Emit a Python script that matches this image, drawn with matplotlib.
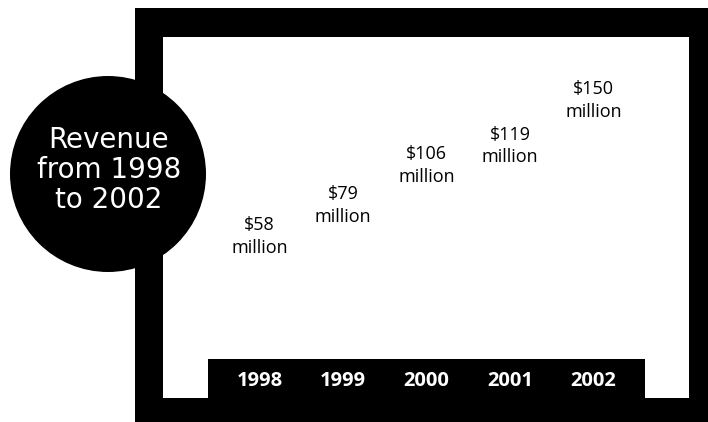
import matplotlib
matplotlib.use("Agg")
import matplotlib.pyplot as plt
from matplotlib.patches import Rectangle, Circle

years = ["1998", "1999", "2000", "2001", "2002"]
revenue = [58, 79, 106, 119, 150]
labels = [f"${v}\nmillion" for v in revenue]
title = "Revenue\nfrom 1998\nto 2002"

W, H = 708, 422
fig = plt.figure(figsize=(W / 100, H / 100), dpi=100)
fig.patch.set_facecolor("white")

# decoration layer in pixel coordinates
deco = fig.add_axes([0, 0, 1, 1])
deco.set_xlim(0, W)
deco.set_ylim(H, 0)
deco.axis("off")
deco.add_patch(Rectangle((135, 8), W - 135, H - 8, color="black", lw=0))
deco.add_patch(Rectangle((163, 37), 689 - 163, 398 - 37, color="white", lw=0))
deco.add_patch(Rectangle((208, 359), 645 - 208, 398 - 359, color="black", lw=0))
deco.add_patch(Circle((108, 174), 98, color="black", lw=0))
deco.text(109, 170, title, color="white", ha="center", va="center",
          fontsize=20, family="DejaVu Sans", linespacing=1.1)

# data layer
x0 = 260 - 42.25
ybase = 345
scale = 1.477
ymax = 180
ax = fig.add_axes([x0 / W, (H - ybase) / H, 5 * 83.5 / W, ymax * scale / H])
ax.set_facecolor("none")
bars = ax.bar(range(len(years)), revenue, width=0.8, color="white", zorder=0)
ax.bar_label(bars, labels=labels, padding=2, fontsize=13,
             family="Open Sans", color="#000000", linespacing=1.3)
ax.set_xlim(-0.5, len(years) - 0.5)
ax.set_ylim(0, ymax)
ax.set_xticks(range(len(years)))
ax.set_xticklabels(years, color="white", fontsize=14.5, fontweight="bold",
                   family="Open Sans")
ax.tick_params(axis="x", length=0, pad=19)
ax.set_yticks([])
for s in ax.spines.values():
    s.set_visible(False)

fig.savefig("out.png", dpi=100)
